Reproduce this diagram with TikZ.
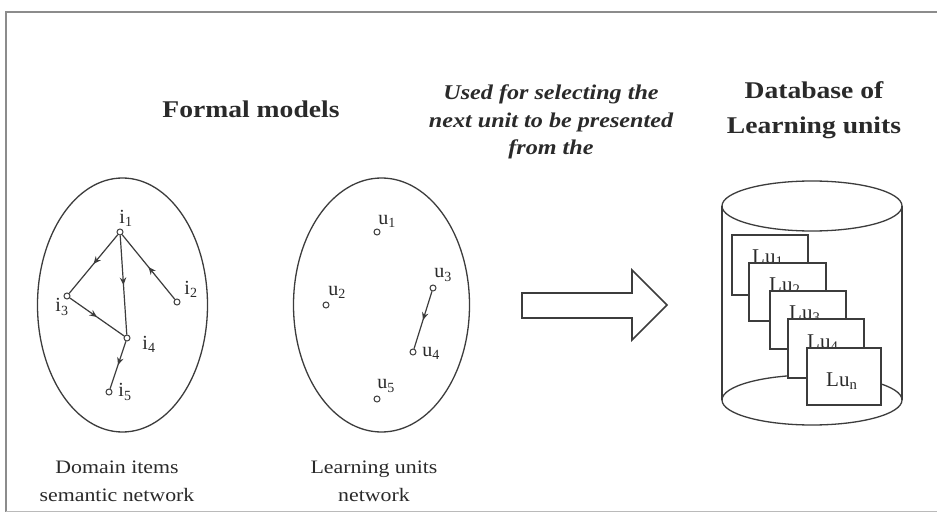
\documentclass[tikz,border=0pt]{standalone}
\usepackage{fontspec}
\setmainfont{Liberation Serif}
\newfontfamily\headfont[FakeStretch=1.15]{Liberation Serif}
\usetikzlibrary{arrows.meta,decorations.markings}
\definecolor{ink}{HTML}{2A2A2A}
\definecolor{linec}{HTML}{3C3C3C}
\definecolor{framec}{HTML}{8C8C8C}
\tikzset{
  pt/.style={circle,draw=linec,line width=1pt,fill=white,inner sep=0pt,minimum size=6pt},
  lbl/.style={inner sep=0pt,text=ink,font=\fontsize{20}{22}\selectfont},
  edge/.style={draw=linec,line width=1.2pt,postaction={decorate},
    decoration={markings,mark=at position 0.5 with {\arrow{Stealth[length=7.5pt,width=6.5pt]}}}},
  outl/.style={draw=linec,line width=1.3pt},
  box/.style={draw=linec,line width=1.3pt,fill=white},
  boxlbl/.style={inner sep=0pt,anchor=west,text=ink,font=\fontsize{21}{23}\selectfont},
  title/.style={inner sep=0pt,align=center,text=ink,font=\headfont\bfseries\fontsize{24}{35}\selectfont},
  caption/.style={inner sep=0pt,align=center,text=ink,font=\headfont\fontsize{19}{28}\selectfont},
}
\begin{document}
\begin{tikzpicture}[x=1pt,y=-1pt]
\useasboundingbox[fill=white] (0,0) rectangle (937,513);
% frame
\draw[framec,line width=2pt] (937,12) -- (6,12) -- (6,512);
\draw[framec!60,line width=0.8pt] (6,511) -- (937,511);

% titles
\node[title] (formal) at (251,109) {Formal models};
\node[title] (dbtitle) at (814,110) {Database of\\Learning units};
\node[inner sep=0pt,align=center,text=ink,font=\headfont\bfseries\itshape\fontsize{21}{27.5}\selectfont] (used) at (551,122)
  {Used for selecting the\\next unit to be presented\\from the};

% ellipses
\draw[outl] (122.5,305) ellipse [x radius=85, y radius=127];
\draw[outl] (381.5,305) ellipse [x radius=88, y radius=127];

% domain items network
\node[pt] (i1) at (120,232) {};
\node[pt] (i2) at (177,302) {};
\node[pt] (i3) at (67,296) {};
\node[pt] (i4) at (127,338) {};
\node[pt] (i5) at (109,392) {};
\node[lbl] (li1) at (126,218) {i\textsubscript{1}};
\node[lbl] (li2) at (191,289) {i\textsubscript{2}};
\node[lbl] (li3) at (62,307) {i\textsubscript{3}};
\node[lbl] (li4) at (149,344) {i\textsubscript{4}};
\node[lbl] (li5) at (125,392) {i\textsubscript{5}};
\draw[edge] (i1) -- (i3);
\draw[edge] (i2) -- (i1);
\draw[edge] (i1) -- (i4);
\draw[edge] (i3) -- (i4);
\draw[edge] (i4) -- (i5);

% learning units network
\node[pt] (u1) at (377,232) {};
\node[pt] (u2) at (326,305) {};
\node[pt] (u3) at (433,288) {};
\node[pt] (u4) at (413,352) {};
\node[pt] (u5) at (377,399) {};
\node[lbl] (lu1) at (387,221) {u\textsubscript{1}};
\node[lbl] (lu2) at (337,292) {u\textsubscript{2}};
\node[lbl] (lu3) at (443,275) {u\textsubscript{3}};
\node[lbl] (lu4) at (431,353) {u\textsubscript{4}};
\node[lbl] (lu5) at (386,386) {u\textsubscript{5}};
\draw[edge] (u3) -- (u4);

% captions
\node[caption] (cap1) at (117,481) {Domain items\\semantic network};
\node[caption] (cap2) at (374,481) {Learning units\\network};

% block arrow
\draw[outl,line width=1.6pt] (522,293) -- (632,293) -- (632,270) -- (667,305)
  -- (632,340) -- (632,318) -- (522,318) -- cycle;

% cylinder
\draw[outl] (812,206) ellipse [x radius=90, y radius=25];
\draw[outl] (722,206) -- (722,400);
\draw[outl] (902,206) -- (902,400);
\draw[outl] (812,400) ellipse [x radius=90, y radius=25];

% learning unit boxes
\draw[box] (732,235) rectangle (808,295);
\node[boxlbl] (lb1) at (752,258) {Lu\textsubscript{1}};
\draw[box] (749,263) rectangle (826,321);
\node[boxlbl] (lb2) at (769,286) {Lu\textsubscript{2}};
\draw[box] (770,291) rectangle (846,349);
\node[boxlbl] (lb3) at (789,314) {Lu\textsubscript{3}};
\draw[box] (788,319) rectangle (864,378);
\node[boxlbl] (lb4) at (807,343) {Lu\textsubscript{4}};
\draw[box] (807,348) rectangle (881,405);
\node[boxlbl] (lb5) at (826,381) {Lu\textsubscript{n}};
\end{tikzpicture}
\end{document}
